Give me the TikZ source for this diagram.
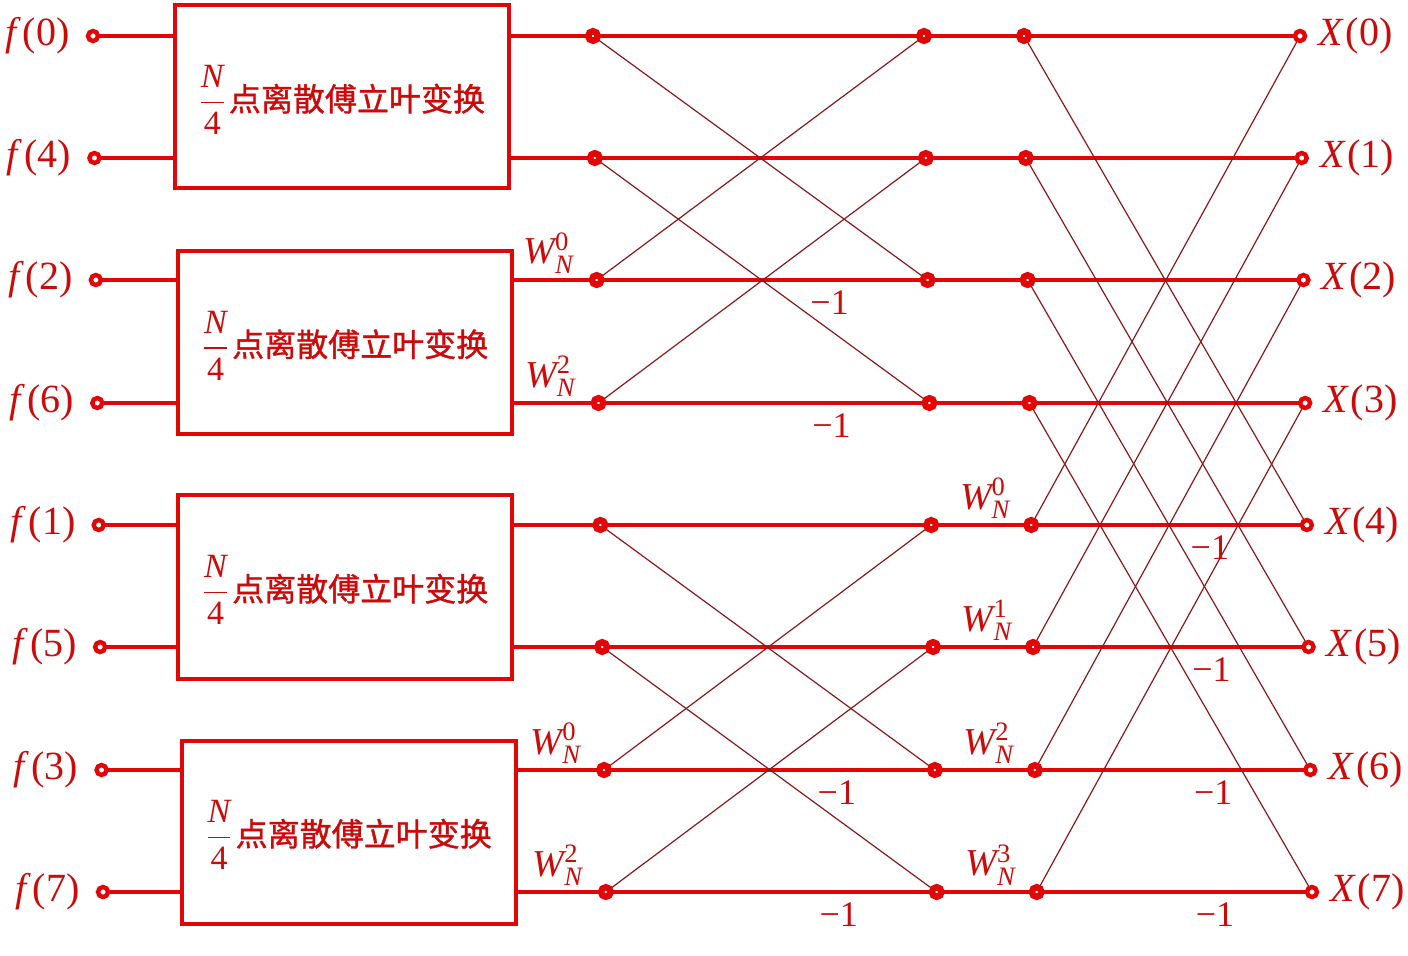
\documentclass[tikz,border=0pt]{standalone}
\usepackage{amsmath}
\usepackage{fontspec}
\setmainfont{Liberation Serif}
\newfontfamily\cjk[FakeBold=1.2]{Noto Sans CJK SC}
\usetikzlibrary{calc,backgrounds}
\definecolor{hred}{RGB}{226,6,6}
\definecolor{tred}{RGB}{205,10,10}
\definecolor{dred}{RGB}{140,25,25}
\tikzset{
  hline/.style={draw=hred,line width=2pt},
  diag/.style={draw=dred,line width=0.6pt},
  iodot/.style={circle,draw=hred,fill=white,line width=2.2pt,minimum size=5pt,inner sep=0pt},
  mdot/.style={circle,draw=hred,fill=white,line width=3.2pt,minimum size=4.8pt,inner sep=0pt},
  dftbox/.style={draw=hred,line width=2pt,minimum width=167pt,minimum height=91.5pt,inner sep=0pt},
  lab/.style={text=tred,inner sep=0pt,font=\fontsize{20}{22}\selectfont},
  wlab/.style={text=tred,inner sep=0pt,font=\fontsize{19}{22}\selectfont},
  mlab/.style={text=tred,inner sep=0pt,font=\fontsize{18}{20}\selectfont},
}
\newcommand{\dfttext}{$\dfrac{\textit{N}}{\text{4}}$\hspace{1.5pt}{\cjk\fontsize{16}{18}\selectfont 点离散傅立叶变换}}
\begin{document}
\begin{tikzpicture}[x=0.5pt,y=-0.5pt]
\useasboundingbox (0,0) rectangle (1408,956);
% boxes
\node[dftbox] (B0) at (341.75,97) {};
\node[dftbox] (B1) at (345,342.5) {};
\node[dftbox] (B2) at (345,587) {};
\node[dftbox] (B3) at (348.5,832) {};
\foreach \k in {0,...,3}{
  \node[text=tred,font=\fontsize{17}{20}\selectfont,inner sep=0pt] (T\k) at ($(B\k.center)+(0,3)$) {\dfttext};
}
% rows
\foreach \r/\y/\lab in {0/36/0,1/158/4,2/280/2,3/403/6,4/525/1,5/647/5,6/770/3,7/892/7}{
  \pgfmathsetmacro{\xin}{93+0.0117*(\y-36)}
  \pgfmathsetmacro{\xa}{593+0.015*(\y-36)}
  \pgfmathsetmacro{\xb}{924+0.0148*(\y-36)}
  \pgfmathsetmacro{\xc}{1024+0.0148*(\y-36)}
  \pgfmathsetmacro{\xout}{1300+0.014*(\y-36)}
  \pgfmathtruncatemacro{\bx}{int(\r/2)}
  \node[iodot] (in\r) at (\xin,\y) {};
  \node[mdot] (a\r) at (\xa,\y) {};
  \node[mdot] (b\r) at (\xb,\y) {};
  \node[mdot] (c\r) at (\xc,\y) {};
  \node[iodot] (out\r) at (\xout,\y) {};
  \coordinate (bl\r) at (B\bx.west |- in\r);
  \coordinate (br\r) at (B\bx.east |- in\r);
  \node[lab,anchor=east] (fl\r) at ($(in\r)+(-23,0)$) {\textit{f}\kern1pt(\lab)};
  \node[lab,anchor=west] (xl\r) at ($(out\r)+(18,0)$) {\textit{X}\kern0.8pt(\r)};
}
\begin{pgfonlayer}{background}
\foreach \r in {0,...,7}{
  \draw[hline] (in\r.center) -- (bl\r);
  \draw[hline] (br\r) -- (out\r.center);
}
\foreach \g in {0,4}{
  \pgfmathtruncatemacro{\p}{\g}
  \pgfmathtruncatemacro{\q}{\g+1}
  \pgfmathtruncatemacro{\s}{\g+2}
  \pgfmathtruncatemacro{\t}{\g+3}
  \draw[diag] (a\p.center) -- (b\s.center);
  \draw[diag] (a\s.center) -- (b\p.center);
  \draw[diag] (a\q.center) -- (b\t.center);
  \draw[diag] (a\t.center) -- (b\q.center);
}
\foreach \i in {0,...,3}{
  \pgfmathtruncatemacro{\j}{\i+4}
  \draw[diag] (c\i.center) -- (out\j.center);
  \draw[diag] (c\j.center) -- (out\i.center);
}
\end{pgfonlayer}
% twiddle labels
\foreach \r/\e in {2/0,3/2,6/0,7/2}{
  \node[wlab] (wa\r) at ($(a\r)+(-48,-27)$) {$\textit{W}^{\text{\e}}_{\textit{N}}$};
  \node[mlab] (ma\r) at ($(b\r)+(-98,23)$) {−1};
}
\foreach \r/\e in {4/0,5/1,6/2,7/3}{
  \node[wlab] (wc\r) at ($(c\r)+(-46,-27)$) {$\textit{W}^{\text{\e}}_{\textit{N}}$};
  \node[mlab] (mc\r) at ($(out\r)+(-97,23)$) {−1};
}
\end{tikzpicture}
\end{document}
